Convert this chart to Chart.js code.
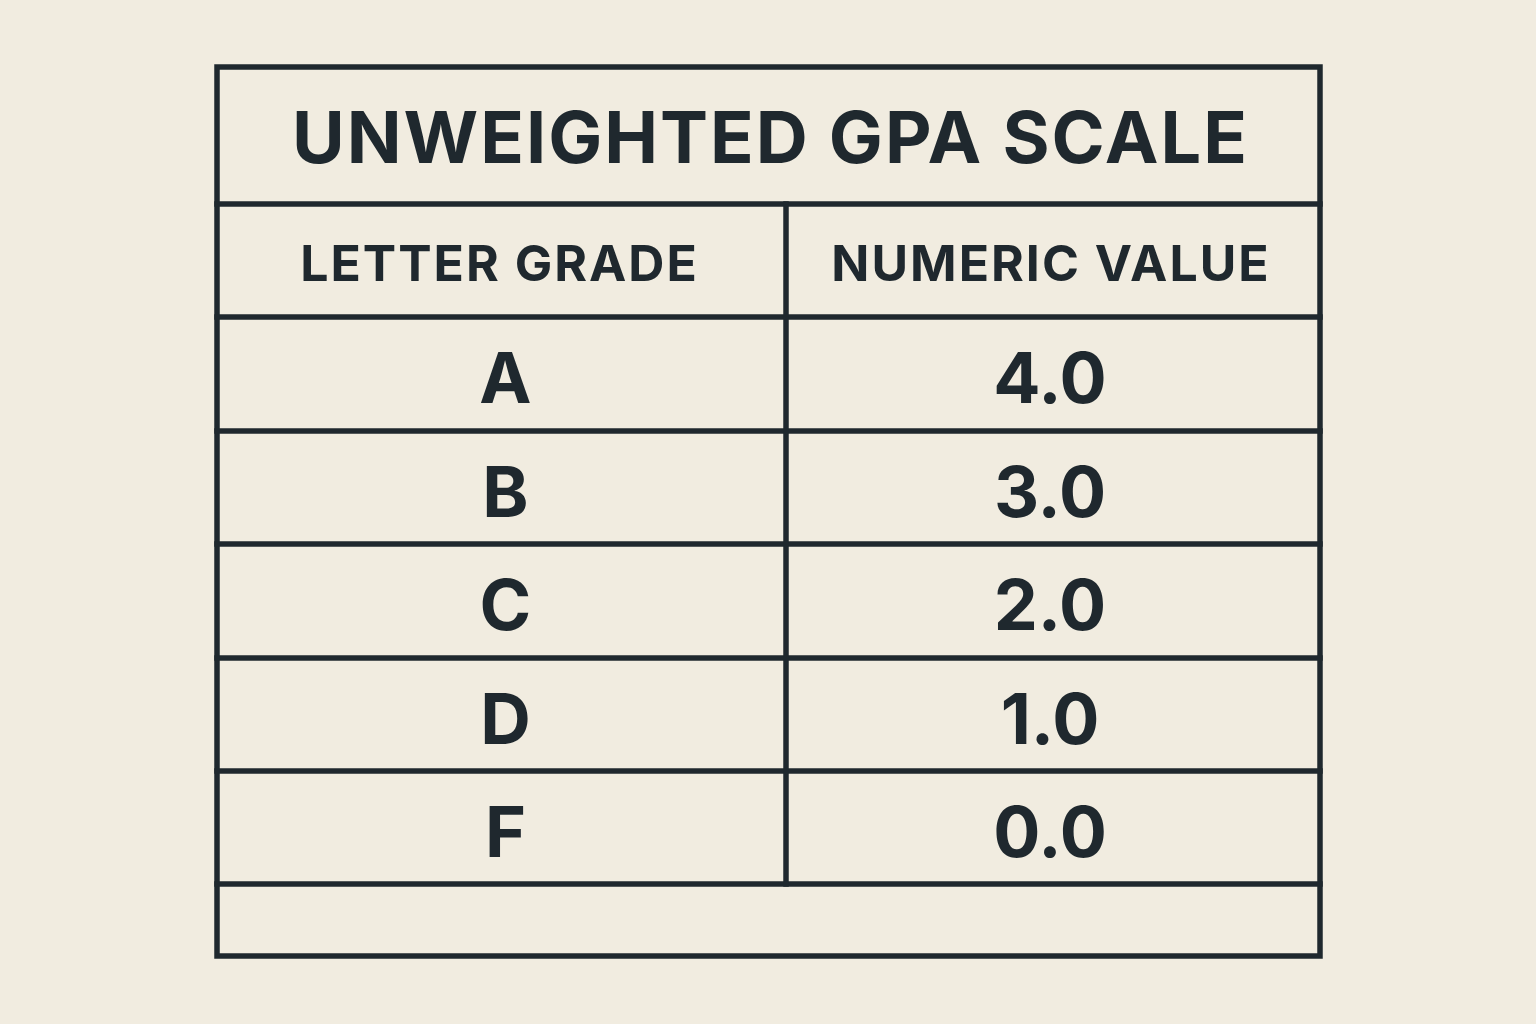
<!DOCTYPE html>
<html>
<head>
<meta charset="utf-8">
<script src="https://cdn.jsdelivr.net/npm/chart.js@4/dist/chart.umd.min.js"></script>
<style>
  html, body { margin: 0; padding: 0; background: #f1ece0; }
  #wrap { width: 1536px; height: 1024px; }
</style>
</head>
<body>
<div id="wrap"><canvas id="gpaTable"></canvas></div>
<script>
// table content
const title = 'UNWEIGHTED GPA SCALE';
const headers = ['LETTER GRADE', 'NUMERIC VALUE'];
const letters = ['A', 'B', 'C', 'D', 'F'];
const values = [4.0, 3.0, 2.0, 1.0, 0.0];

// grid geometry in page units (scale values, not pixels)
const colEdges = [217, 786, 1320];
const rowEdges = [67, 204, 317, 431, 544, 658, 771, 884, 956];

const ink = '#1f282e';

const tablePlugin = {
    id: 'tablePlugin',
    afterDraw(chart) {
        const c = chart.ctx;
        const xs = chart.scales.x, ys = chart.scales.y;
        const X = v => xs.getPixelForValue(v);
        const Y = v => ys.getPixelForValue(v);
        c.save();
        c.strokeStyle = ink;
        c.lineWidth = 5.5;
        c.lineCap = 'square';
        // outer box
        c.strokeRect(X(colEdges[0]), Y(rowEdges[0]), X(colEdges[2]) - X(colEdges[0]), Y(rowEdges[8]) - Y(rowEdges[0]));
        // horizontal lines
        for (let i = 1; i < rowEdges.length - 1; i++) {
            c.beginPath();
            c.moveTo(X(colEdges[0]), Y(rowEdges[i]));
            c.lineTo(X(colEdges[2]), Y(rowEdges[i]));
            c.stroke();
        }
        // column divider (header + grade rows only)
        c.beginPath();
        c.moveTo(X(colEdges[1]), Y(rowEdges[1]));
        c.lineTo(X(colEdges[1]), Y(rowEdges[7]));
        c.stroke();

        c.fillStyle = ink;
        c.textAlign = 'center';
        c.textBaseline = 'middle';
        const midX = [(colEdges[0] + colEdges[1]) / 2, (colEdges[1] + colEdges[2]) / 2];
        const midY = i => (rowEdges[i] + rowEdges[i + 1]) / 2;

        c.font = 'bold 72px Inter, "DejaVu Sans", sans-serif';
        c.letterSpacing = '2px';
        c.fillText(title, X((colEdges[0] + colEdges[2]) / 2 + 2), Y(midY(0) + 6));

        c.font = 'bold 50px Inter, "DejaVu Sans", sans-serif';
        c.letterSpacing = '2px';
        headers.forEach((h, j) => c.fillText(h, X(midX[j] - 2), Y(midY(1) + 5)));

        c.font = 'bold 70px Inter, "DejaVu Sans", sans-serif';
        c.letterSpacing = '0px';
        letters.forEach((l, i) => {
            c.fillText(l, X(midX[0] + 4), Y(midY(i + 2) + 8));
            c.fillText(values[i].toFixed(1), X(midX[1] - 3), Y(midY(i + 2) + 8));
        });
        c.restore();
    }
};

new Chart(document.getElementById('gpaTable'), {
    type: 'scatter',
    data: { datasets: [{ data: [] }] },
    options: {
        responsive: true,
        maintainAspectRatio: false,
        animation: false,
        layout: { padding: 0 },
        plugins: { legend: { display: false }, tooltip: { enabled: false } },
        scales: {
            x: { type: 'linear', min: 0, max: 1536, display: false },
            y: { type: 'linear', min: 0, max: 1024, reverse: true, display: false }
        }
    },
    plugins: [tablePlugin]
});
</script>
</body>
</html>
